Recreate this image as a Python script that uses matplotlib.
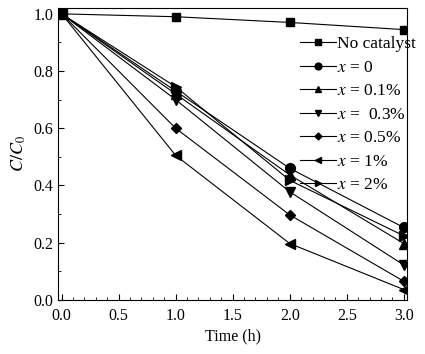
import numpy as np
import matplotlib
matplotlib.use("Agg")
import matplotlib.pyplot as plt
from matplotlib.ticker import MultipleLocator

plt.rcParams['font.family'] = ['Liberation Serif', 'DejaVu Serif']
plt.rcParams['mathtext.fontset'] = 'stix'

# data
time = [0.0, 1.0, 2.0, 3.0]
no_cat = [1.0, 0.99, 0.97, 0.945]
x0 = [1.0, 0.73, 0.46, 0.253]
x01 = [1.0, 0.72, 0.437, 0.197]
x03 = [1.0, 0.70, 0.378, 0.122]
x05 = [1.0, 0.60, 0.297, 0.065]
x1 = [1.0, 0.505, 0.197, 0.036]
x2 = [1.0, 0.745, 0.418, 0.224]

series = [no_cat, x0, x01, x03, x05, x1, x2]
labels = ["No catalyst", "$x$ = 0", "$x$ = 0.1%", "$x$ =  0.3%",
          "$x$ = 0.5%", "$x$ = 1%", "$x$ = 2%"]
markers = ["s", "o", "^", "v", "D", "<", ">"]
sizes = [6, 7, 7, 7, 5, 7, 7]

fig = plt.figure(figsize=(4.25, 3.54), dpi=100)
ax = fig.add_axes([0.137, 0.153, 0.821, 0.824])

for ys, lab, m, s in zip(series, labels, markers, sizes):
    ax.plot(time, ys, color="black", lw=0.8, marker=m, ms=s, label=lab)

ax.set_xlim(-0.03, 3.03)
ax.set_ylim(0.0, 1.02)
ax.xaxis.set_major_locator(MultipleLocator(0.5))
ax.xaxis.set_minor_locator(MultipleLocator(0.1))
ax.yaxis.set_major_locator(MultipleLocator(0.2))
ax.yaxis.set_minor_locator(MultipleLocator(0.1))
ax.tick_params(which="both", direction="in", labelsize=11.5)
ax.tick_params(which="major", length=4)
ax.tick_params(which="minor", length=2)
ax.tick_params(axis="x", pad=6)
ax.xaxis.set_major_formatter(matplotlib.ticker.FormatStrFormatter("%.1f"))
ax.yaxis.set_major_formatter(matplotlib.ticker.FormatStrFormatter("%.1f"))

ax.set_xlabel("Time (h)", fontsize=11.5, labelpad=3)
ax.set_ylabel("$C/C_0$", fontsize=13)

ax.legend(loc="upper right", bbox_to_anchor=(1.06, 0.945), frameon=False,
          fontsize=12.5, handlelength=2.1, handletextpad=0.05,
          labelspacing=0.42, borderpad=0.2, markerscale=0.7)

plt.savefig("out.png", dpi=100)
